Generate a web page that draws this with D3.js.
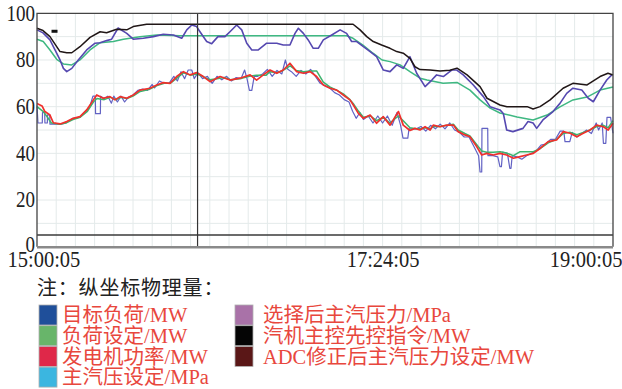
<!DOCTYPE html>
<html>
<head>
<meta charset="utf-8">
<script src="https://cdn.jsdelivr.net/npm/d3@7"></script>
<style>
  body { margin: 0; background: #fff; }
  svg { display: block; }
</style>
</head>
<body>
<svg id="chart" width="622" height="389"></svg>
<script>
// Time is counted in minutes from 15:00:05 (0 .. 240 = 19:00:05).
const timeTicks = [0, 144, 240];
const timeTickLabels = ["15:00:05", "17:24:05", "19:00:05"];
const valueTicks = [0, 20, 40, 60, 80, 100];
const cursorTime = [66.9];
const markerPoint = [[7.3, 92.3]];

const legendTitle = "注：纵坐标物理量：";
const legendNames = [
  "目标负荷/MW", "负荷设定/MW", "发电机功率/MW", "主汽压设定/MPa",
  "选择后主汽压力/MPa", "汽机主控先控指令/MW", "ADC修正后主汽压力设定/MW"
];
const legendColors = ["#1f4f9a", "#68b56a", "#df2849", "#3bb6e0", "#a972a8", "#050505", "#5a1717"];

// [minute, value]
const targetLoad = [
  [0,60.5],[0.4,53],[2.2,53],[2.3,57.5],[3.2,57.5],[3.3,53],[4.3,53],[4.4,56.5],[5.3,56.5],[5.4,52.5],
  [10,52.5],[12,53],[15,55],[18,55.5],[20,57.5],[22,60],[23.3,64.5],[24.3,64.5],[24.4,57],[26.4,57],
  [26.5,64.5],[28,63.5],[29.5,64.5],[31,61.5],[32,64.5],[33.5,62],[35,64.5],[36.5,62],[38,64],[40,65],
  [42,67],[44,67.5],[46,67],[48,69.5],[49,68],[51,71],[53,70],[55,70],[57,73],[58.5,71],[60,75],
  [61.5,72],[63,75.7],[64.5,75.7],[65.5,72],[67,74.5],[69,72],[71,73],[73,70],[75,73],[77,71.5],
  [79,73],[81,71],[83,72.5],[85,72],[86.5,75.7],[87.5,72],[88.5,67],[89.5,67],[90.5,73],[92,73],
  [94,74],[96,76],[98,73],[100,75.5],[102,74],[103.5,80],[104.5,76],[106,75],[108,73],[110,75.5],
  [112,74],[114,76],[116,73],[118,70],[120,69],[122,68],[124,66],[126,65],[128,63],[130,62],
  [131.5,58],[133,55],[134.5,57.5],[136,54.5],[138,56],[140,53],[142,56],[144,53],[146,56],[148,52],
  [150,57.5],[151.5,52],[152.5,46.5],[154.5,46.5],[155,50.5],[158,50.5],[160,51.5],[162,49.5],[164,52],
  [166,50.5],[168,52.5],[170,50.5],[172,53],[174,50],[176,49],[178,47],[180,47],[182,43],[184,39],
  [184.6,32],[185.3,32],[185.4,50.7],[187.8,50.7],[187.9,39],[190,39],[192,38.5],[192.9,34.3],[193.5,34.3],
  [194,40.5],[196,40],[197,33.6],[197.5,33.6],[198,39],[200,38.5],[202,37.5],[204,39],[206,40],[208,41],
  [210,43.5],[212,44],[214,46],[216,46],[218,49.5],[219.5,49.5],[220,45],[222,45],[223,49],[225,47],
  [227,48.5],[229,50],[231,48.5],[233,53],[234,50],[235.5,53],[236,44.3],[237,44.3],[237.5,55.4],
  [239,55.4],[240,48.6]
];
const loadSetpoint = [
  [0,60],[2.5,58],[4,56],[6,53],[9.6,52.5],[12,53],[15,54.5],[18,55.5],[21,58],[23.5,62],[25,63.5],
  [28,63],[30.5,64],[33,63],[35,64],[37.5,63.5],[40,64.5],[43,66.5],[47,67.5],[50,69],[53,70],
  [55.5,70],[58,72],[61,74.5],[64,73.5],[66.5,74],[69,73],[72,71.5],[75,72],[78,72.5],[80.5,71.5],
  [84.5,72],[88.5,73],[91.5,73.5],[95.5,73.5],[97,75],[100,74.5],[102.5,75.5],[105.5,77.5],[108,75.5],
  [111,75],[113.8,75.3],[116.5,75.3],[119.3,70.5],[122,68.5],[125,67],[127.6,65.5],[130.4,63],[132,61],
  [134,58],[136,55.5],[139,56],[141.5,54],[144.3,55.5],[147,53],[150.6,56],[152.6,54],[155.4,51],
  [158,50.5],[160,50.5],[162,51],[164,50.5],[165,51.5],[168,51.5],[171,52],[173.5,52.5],[175.5,50],
  [178.3,48.5],[180.4,47.5],[183,44],[185.3,41],[187.4,40.5],[190,40.5],[193,40.7],[196,40],[198.5,39],
  [201.3,40.7],[206.8,40.7],[209.6,42],[213,44.5],[216.5,46],[219.3,48.5],[222,49],[225,48],[227.6,49],
  [230.4,50],[233.2,51.5],[236,52],[238,51],[240,54]
];
const generatorPower = [
  [0,61.4],[2.1,60.3],[3.3,57.9],[5.4,56.4],[6.8,53.1],[9.6,52.6],[12.4,53.6],[15.1,55],[17.9,55.7],
  [20.7,58.6],[23.5,62.9],[24.9,65],[27.6,63.6],[30.4,64.3],[32.5,62.9],[34.6,64.3],[37.4,63.6],[40.1,65],
  [42.9,67.1],[47.1,67.9],[49.9,69.3],[52.6,70.3],[55.4,70],[58.2,72.9],[61,75],[63.8,73.6],[66.5,74.6],
  [69.3,72.9],[72.1,70.7],[76.3,72.9],[80.4,71.4],[84.6,72.2],[88.8,73.6],[91.5,71.4],[94.3,73.6],
  [97.1,75.7],[99.9,74.3],[102.6,75.7],[105.4,78.6],[108.2,75],[111,74.3],[113.8,75],[116.5,72.9],
  [119.3,69.3],[122.1,67.9],[124.9,67.1],[127.6,65],[130.4,62.9],[131.8,60.7],[133.9,57.1],[136,55],
  [138.8,56.4],[141.5,52.9],[144.3,55.7],[147.1,52.1],[150.6,57.9],[152.6,52.1],[155.4,49.8],[157.5,50.7],
  [159.6,50],[161.7,51.4],[163.8,50],[165.1,52.1],[167.9,51.4],[170.7,52.1],[173.5,52.1],[175.5,49.3],
  [178.3,47.9],[180.4,47.1],[183.2,42.9],[185.3,39.3],[187.4,40],[190.1,39.3],[192.9,40],[195.7,39.3],
  [198.5,37.9],[201.3,38.6],[204,39.3],[206.8,40],[209.6,42.1],[213,45],[216.5,45.7],[219.3,49.3],
  [222.1,48.6],[224.9,47.1],[227.6,48.6],[230.4,50],[233.2,52.1],[236,51.4],[238,50],[240,52.9]
];
const pressureSetpoint = [
  [0,88.9],[2.6,87.9],[5.4,84.3],[8.2,80.3],[11,78.3],[14.5,77.9],[17.9,80],[22.1,84.3],[26.3,87.4],
  [31.8,87.9],[36,88.9],[42.9,90],[49.9,90.7],[59.6,90.4],[129,90.4],[131.7,89.3],[135.8,86.4],[140,82.9],
  [143.8,80],[147.1,79.3],[151.3,77.9],[155.4,75],[159.6,72.2],[162.5,71.4],[169.2,70],[175,70.4],
  [180.4,67.1],[184.6,62.9],[188.8,59.4],[192.9,57.3],[200,55.6],[206.7,54.3],[212.5,56.4],[217.9,59.9],
  [223.3,62.9],[229.2,64.1],[234.6,67.1],[240,68.4]
];
const selectedPressure = [
  [0,92.9],[2.5,91.6],[5.4,88.6],[7.5,84.3],[9.6,80],[11,76.4],[12.4,75],[14.5,76.4],[17.2,80],[20.7,84.3],
  [24.2,87.2],[26.3,87.4],[29,88.3],[31.1,88.9],[33.8,93.7],[37.4,91.4],[40.1,88.9],[44.3,89.3],[48.5,90],
  [52.6,91],[56.8,90.7],[60.3,89.3],[62.4,92.9],[64.5,95],[66.5,94.3],[67.9,92.1],[70.7,87.9],[72.8,87],
  [75.4,90],[78.3,90],[80.4,92.1],[83.2,95],[85.3,92.9],[87.4,87.2],[89.5,84.3],[92.2,84.3],[95.7,87.2],
  [99.9,87.2],[102.6,86.4],[105.4,86.4],[107.5,91.4],[108.9,93.6],[111,91.4],[113,88.6],[115.1,85],
  [117.2,85],[119.3,88.6],[122.8,90.7],[126.3,92.9],[129,91.4],[131.1,87.9],[133.2,87.9],[136,85.7],
  [138.8,83.6],[141.5,81.4],[144.3,75.7],[147.1,75],[149.9,77.9],[152.6,76.4],[155.4,81.4],[158.2,74.3],
  [161.7,68.6],[164.5,71.4],[166.5,73.6],[169.3,72.9],[172.8,75.7],[174.9,75.7],[177.6,73.6],[181.8,69.3],
  [186,64.3],[188.8,60],[192.9,58.6],[194.3,57.1],[195.7,50],[198.3,49.3],[202.5,50.7],[204.6,53.6],
  [206.7,53],[208.2,50.7],[210.8,54.3],[215,57.9],[217.9,61.4],[220.7,65.7],[223.3,67.9],[227,67.1],
  [229.7,63.6],[231.8,62.1],[234.6,67.1],[237.4,71.4],[239.5,73.6]
];
const turbineCommand = [
  [0,93.6],[2.5,92.6],[5.4,90],[8.2,85.7],[9.6,83.6],[12.4,83.1],[14.5,83.1],[17.9,85.7],[22.1,89.7],
  [26.3,92.1],[29,91.7],[33.2,93.2],[37.4,92.9],[40.1,94.3],[45.7,95.3],[131.7,95.3],[134.6,92.9],
  [137.4,90],[140.1,87.9],[143.6,86.4],[147.1,85],[149.9,83.6],[152.6,82.9],[155.4,80.7],[157.5,77.1],
  [159.6,75.9],[163.8,75.7],[167.9,75.3],[172,75.6],[175,76.5],[179.2,73.6],[184.6,68.6],[187.5,63.6],
  [192.9,60.7],[195.8,60],[204.2,60],[206.7,59],[209.6,60],[213.8,62.9],[219.2,67.9],[223.3,70],
  [229.2,69.3],[234.6,72.9],[237.9,74.3],[240,73.6]
];
const adcPressureSet = [[0,5],[240,5]];

const W = 622, H = 389;
const plot = { left: 37, right: 613, top: 13.3, bottom: 246.7 };
const x = d3.scaleLinear().domain([0, 240]).range([plot.left, plot.right]);
const y = d3.scaleLinear().domain([0, 100]).range([plot.bottom, plot.top]);

const svg = d3.select("#chart");
const serif = "'Liberation Serif', 'Times New Roman', 'Noto Sans CJK SC', serif";

// grid
const grid = svg.append("g").attr("stroke", "#e4eaea").attr("stroke-width", 1);
grid.selectAll("line.v").data(d3.range(8, 240, 8)).join("line")
  .attr("x1", d => x(d)).attr("x2", d => x(d)).attr("y1", plot.top).attr("y2", plot.bottom);
grid.selectAll("line.h").data(d3.range(10, 100, 10)).join("line")
  .attr("x1", plot.left).attr("x2", plot.right).attr("y1", d => y(d)).attr("y2", d => y(d));

const line = d3.line().x(d => x(d[0])).y(d => y(d[1]));

// lower load group
const lower = [
  { data: targetLoad, color: "#6262c4", width: 1.2 },
  { data: loadSetpoint, color: "#3cb46e", width: 1.5 },
  { data: generatorPower, color: "#f0302c", width: 1.7 }
];
// upper pressure / command group
const upper = [
  { data: pressureSetpoint, color: "#3fb882", width: 1.5 },
  { data: selectedPressure, color: "#5548b0", width: 1.6 },
  { data: turbineCommand, color: "#201616", width: 1.5 }
];
svg.append("g").selectAll("path").data(lower.concat(upper)).join("path")
  .attr("fill", "none")
  .attr("stroke", d => d.color)
  .attr("stroke-width", d => d.width)
  .attr("stroke-linejoin", "round")
  .attr("d", d => line(d.data));

// ADC line near the floor
svg.append("path").attr("fill", "none").attr("stroke", "#3a3a3a").attr("stroke-width", 1.5)
  .attr("d", line(adcPressureSet));

// cursor
svg.selectAll("line.cursor").data(cursorTime).join("line").attr("class", "cursor")
  .attr("x1", d => x(d)).attr("x2", d => x(d)).attr("y1", plot.top).attr("y2", plot.bottom)
  .attr("stroke", "#333").attr("stroke-width", 1.2);

// small marker
svg.selectAll("rect.marker").data(markerPoint).join("rect").attr("class", "marker")
  .attr("x", d => x(d[0]) - 3).attr("y", d => y(d[1]) - 1.5).attr("width", 6).attr("height", 3)
  .attr("fill", "#111");

// frame
svg.append("path").attr("fill", "none").attr("stroke", "#444").attr("stroke-width", 1.3)
  .attr("d", `M${plot.left},${plot.bottom}V${plot.top}H${plot.right}V${plot.bottom}`);
svg.append("line").attr("x1", plot.left).attr("x2", plot.right)
  .attr("y1", plot.bottom + 0.5).attr("y2", plot.bottom + 0.5)
  .attr("stroke", "#8a8a8a").attr("stroke-width", 2.5);

// y axis
const yAxis = svg.append("g").attr("transform", `translate(${plot.left},0)`)
  .call(d3.axisLeft(y).tickValues(valueTicks).tickSize(0).tickPadding(2));
yAxis.select(".domain").remove();
yAxis.selectAll("text")
  .attr("font-family", serif).attr("font-size", 19).attr("fill", "#222")
  .attr("dy", d => d === 0 ? "0.2em" : "0.3em").attr("transform", "scale(1,1.2)");

// x axis
const xAxis = svg.append("g").attr("transform", `translate(0,${plot.bottom})`)
  .call(d3.axisBottom(x).tickValues(timeTicks).tickFormat((d, i) => timeTickLabels[i]).tickSize(0));
xAxis.select(".domain").remove();
xAxis.selectAll("text")
  .attr("font-family", serif).attr("font-size", 20.5).attr("fill", "#222")
  .attr("y", 0).attr("dy", "0.86em")
  .attr("transform", "scale(1,1.16)")
  .attr("text-anchor", (d, i) => i === 0 ? "start" : i === timeTicks.length - 1 ? "end" : "middle")
  .attr("x", (d, i) => i === 0 ? 7 - x(d) : i === timeTicks.length - 1 ? W - x(d) : 0);

// legend
svg.append("text").attr("x", 37).attr("y", 288).attr("dy", "0.35em")
  .attr("font-family", serif).attr("font-size", 20).attr("letter-spacing", 0.8)
  .attr("fill", "#222").text(legendTitle);

const rowsPerCol = 4;
const legend = svg.append("g").selectAll("g").data(legendNames).join("g")
  .attr("transform", (d, i) => {
    const col = Math.floor(i / rowsPerCol), row = i % rowsPerCol;
    return `translate(${col ? 235 : 39},${305 + row * 20.7})`;
  });
legend.append("rect").attr("width", 18).attr("height", 20)
  .attr("fill", (d, i) => legendColors[i]).attr("stroke", "#b0b0b0").attr("stroke-width", 0.8);
legend.append("text").attr("x", (d, i) => i < rowsPerCol ? 23 : 28).attr("y", 10).attr("dy", "0.36em")
  .attr("font-family", serif).attr("font-size", 20.5).attr("fill", "#e8473d").text(d => d);
</script>
</body>
</html>
